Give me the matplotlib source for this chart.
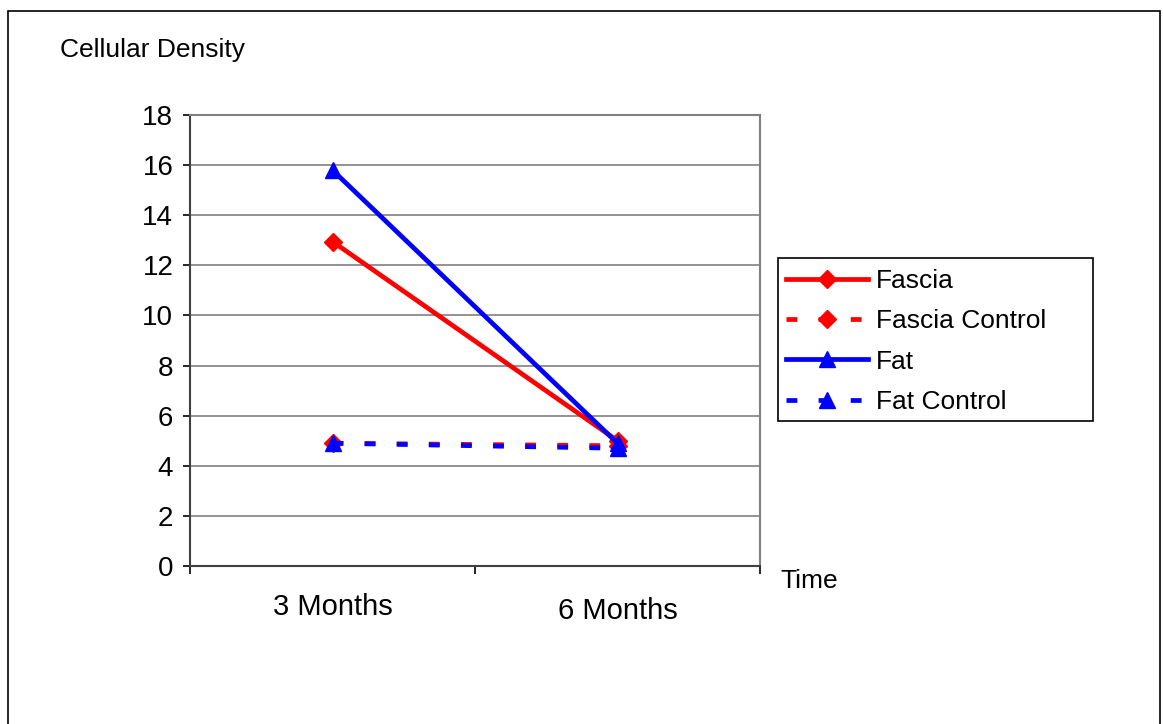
import matplotlib.pyplot as plt
from matplotlib.lines import Line2D
from matplotlib.patches import Rectangle

plt.rcParams['font.family'] = ['Liberation Sans', 'DejaVu Sans']

categories = ["3 Months", "6 Months"]
fascia = [12.95, 5.0]
fascia_control = [4.9, 4.8]
fat = [15.8, 4.9]
fat_control = [4.9, 4.7]

W, H = 1163, 724
fig = plt.figure(figsize=(W / 100, H / 100), dpi=100)

# outer chart frame
fig.patches.append(Rectangle((8 / W, -0.01), (1160 - 8) / W, (H - 11) / H + 0.01,
                             transform=fig.transFigure, fill=False,
                             edgecolor='black', linewidth=1.2))

ax = fig.add_axes([190 / W, 158 / H, 570 / W, 451 / H])
x = [0.5, 1.5]
dash = (0, (2.3, 4.5))
ax.plot(x, fascia_control, color='#ff0000', lw=3.4, ls=dash, marker='D', ms=9, zorder=3)
ax.plot(x, fat_control, color='#0000ff', lw=3.4, ls=dash, marker='^', ms=12, zorder=3)
ax.plot(x, fascia, color='#ff0000', lw=3.4, marker='D', ms=9, zorder=4)
ax.plot(x, fat, color='#0000ff', lw=3.4, marker='^', ms=12, zorder=5)

ax.set_xlim(0, 2)
ax.set_ylim(0, 18)
ax.set_yticks(range(0, 19, 2))
ax.set_xticks([0, 1, 2])
ax.set_xticklabels([])
ax.yaxis.grid(True, color='#808080', lw=1.2)
ax.set_axisbelow(True)
ax.tick_params(axis='y', labelsize=20, length=5, width=1.2, direction='out', pad=7)
ax.tick_params(axis='x', length=6, width=1.2, direction='out')
for side in ['top', 'right']:
    ax.spines[side].set_color('#808080')
    ax.spines[side].set_linewidth(1.5)
for side in ['left', 'bottom']:
    ax.spines[side].set_color('#404040')
    ax.spines[side].set_linewidth(1.5)

# category labels sit at slightly different heights
ax.text(0.25, -0.092, categories[0], transform=ax.transAxes, ha='center', va='center', fontsize=21)
ax.text(0.75, -0.099, categories[1], transform=ax.transAxes, ha='center', va='center', fontsize=21)

fig.text(60 / W, 1 - 50 / H, "Cellular Density", ha='left', va='center', fontsize=19)
fig.text(780 / W, 1 - 581 / H, "Time", ha='left', va='center', fontsize=19)

handles = [
    Line2D([], [], color='#ff0000', lw=3.4, marker='D', ms=9),
    Line2D([], [], color='#ff0000', lw=3.4, ls=dash, marker='D', ms=9),
    Line2D([], [], color='#0000ff', lw=3.4, marker='^', ms=12),
    Line2D([], [], color='#0000ff', lw=3.4, ls=dash, marker='^', ms=12),
]
labels = ["Fascia", "Fascia Control", "Fat", "Fat Control"]
leg = fig.legend(handles, labels, loc='upper left', bbox_to_anchor=(778 / W, 1 - 261 / H),
                 fontsize=19, frameon=False,
                 handlelength=3.1, handletextpad=0.3, labelspacing=0.62,
                 borderpad=0.3, borderaxespad=0)
# legend box
fig.patches.append(Rectangle((778 / W, 1 - 421 / H), (1093 - 778) / W, (421 - 258) / H,
                             transform=fig.transFigure, fill=False,
                             edgecolor='black', linewidth=1.2))

fig.savefig("out.png", dpi=100)
